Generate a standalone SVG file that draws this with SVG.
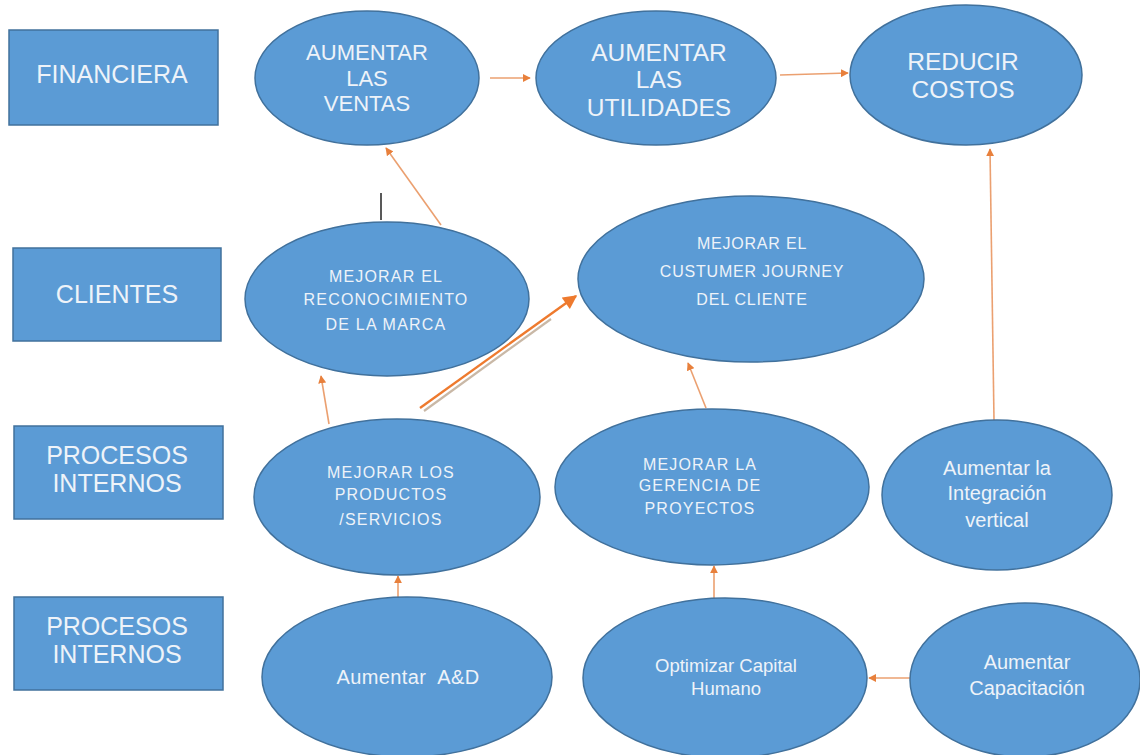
<svg xmlns="http://www.w3.org/2000/svg" width="1140" height="755" viewBox="0 0 1140 755">
<defs>
<style>
.box{fill:#5B9BD5;stroke:#41719C;stroke-width:1.5}
.t{fill:#EEF3F9;font-family:"Liberation Sans",Arial,sans-serif;text-anchor:middle}
.lb{font-size:25px}
.big{font-size:22px}
.big2{font-size:24.5px}
.mid{font-size:20px}
.sm{font-size:16px;letter-spacing:1.2px}
.c{stroke:#EBA070;stroke-width:1.6;fill:none}
.cs{stroke:#EE7A2E;stroke-width:2.4;fill:none}
</style>
<marker id="ah" viewBox="0 0 10 10" refX="9" refY="5" markerWidth="8" markerHeight="8" markerUnits="userSpaceOnUse" orient="auto">
<path d="M0,0 L10,5 L0,10 z" fill="#E8803C"/>
</marker>
<marker id="ah2" viewBox="0 0 10 10" refX="9" refY="5" markerWidth="15" markerHeight="14" markerUnits="userSpaceOnUse" orient="auto">
<path d="M0,0 L10,5 L0,10 z" fill="#EE7A2E"/>
</marker>
</defs>
<rect width="1140" height="755" fill="#ffffff"/>

<g id="lbl-financiera"><rect class="box" x="9" y="30" width="209" height="95"/><text class="t lb" x="112" y="83">FINANCIERA</text></g>
<g id="lbl-clientes"><rect class="box" x="13" y="248" width="208" height="93"/><text class="t lb" x="117" y="303">CLIENTES</text></g>
<g id="lbl-procesos1"><rect class="box" x="14" y="426" width="209" height="93"/><text class="t lb" x="117" y="464">PROCESOS</text><text class="t lb" x="117" y="492">INTERNOS</text></g>
<g id="lbl-procesos2"><rect class="box" x="14" y="597" width="209" height="93"/><text class="t lb" x="117" y="635">PROCESOS</text><text class="t lb" x="117" y="663">INTERNOS</text></g>

<g id="connectors">
<line class="c" x1="490" y1="78" x2="530" y2="78" marker-end="url(#ah)"/>
<line class="c" x1="780" y1="75" x2="848" y2="73" marker-end="url(#ah)"/>
<line class="c" x1="441" y1="225" x2="386" y2="148" marker-end="url(#ah)"/>
<line x1="381" y1="193" x2="381" y2="220" stroke="#222" stroke-width="1.5"/>
<line class="c" x1="329" y1="424" x2="321" y2="376" marker-end="url(#ah)"/>
<line x1="424" y1="411" x2="551" y2="319" stroke="#C9B8A6" stroke-width="2.2"/>
<line class="cs" x1="420" y1="408" x2="576" y2="296" marker-end="url(#ah2)"/>
<line class="c" x1="706" y1="408" x2="688" y2="363" marker-end="url(#ah)"/>
<line class="c" x1="994" y1="420" x2="990" y2="149" marker-end="url(#ah)"/>
<line class="c" x1="398" y1="600" x2="398" y2="576" marker-end="url(#ah)"/>
<line class="c" x1="714" y1="600" x2="714" y2="566" marker-end="url(#ah)"/>
<line class="c" x1="910" y1="678" x2="869" y2="678" marker-end="url(#ah)"/>
</g>

<g id="n-ventas"><ellipse class="box" cx="367" cy="78" rx="112" ry="67"/><text class="t big" x="367" y="60">AUMENTAR</text><text class="t big" x="367" y="86">LAS</text><text class="t big" x="367" y="111">VENTAS</text></g>
<g id="n-utilidades"><ellipse class="box" cx="656" cy="78" rx="120" ry="67"/><text class="t big2" x="659" y="61">AUMENTAR</text><text class="t big2" x="659" y="88">LAS</text><text class="t big2" x="659" y="116">UTILIDADES</text></g>
<g id="n-costos"><ellipse class="box" cx="966" cy="75" rx="116" ry="70"/><text class="t big2" x="963" y="70">REDUCIR</text><text class="t big2" x="963" y="98">COSTOS</text></g>
<g id="n-reconocimiento"><ellipse class="box" cx="387" cy="299" rx="142" ry="77"/><text class="t sm" x="386" y="282">MEJORAR EL</text><text class="t sm" x="386" y="305">RECONOCIMIENTO</text><text class="t sm" x="386" y="330">DE LA MARCA</text></g>
<g id="n-journey"><ellipse class="box" cx="751" cy="279" rx="173" ry="83"/><text class="t sm" style="letter-spacing:0.8px" x="752" y="249">MEJORAR EL</text><text class="t sm" style="letter-spacing:0.8px" x="752" y="277">CUSTUMER JOURNEY</text><text class="t sm" style="letter-spacing:0.8px" x="752" y="305">DEL CLIENTE</text></g>
<g id="n-productos"><ellipse class="box" cx="397" cy="497" rx="143" ry="78"/><text class="t sm" x="391" y="478">MEJORAR LOS</text><text class="t sm" x="391" y="500">PRODUCTOS</text><text class="t sm" x="391" y="525">/SERVICIOS</text></g>
<g id="n-gerencia"><ellipse class="box" cx="712" cy="487" rx="157" ry="78"/><text class="t sm" x="700" y="470">MEJORAR LA</text><text class="t sm" x="700" y="491">GERENCIA DE</text><text class="t sm" x="700" y="514">PROYECTOS</text></g>
<g id="n-integracion"><ellipse class="box" cx="997" cy="495" rx="115" ry="75"/><text class="t mid" x="997" y="475">Aumentar la</text><text class="t mid" x="997" y="500">Integración</text><text class="t mid" x="997" y="527">vertical</text></g>
<g id="n-ad"><ellipse class="box" cx="407" cy="677" rx="145" ry="80"/><text class="t mid" style="letter-spacing:0.4px" x="408" y="684" xml:space="preserve">Aumentar  A&amp;D</text></g>
<g id="n-capital"><ellipse class="box" cx="725" cy="678" rx="142" ry="80"/><text class="t" style="font-size:18.5px" x="726" y="672">Optimizar Capital</text><text class="t" style="font-size:18.5px" x="726" y="695">Humano</text></g>
<g id="n-capacitacion"><ellipse class="box" cx="1025" cy="680" rx="115" ry="77"/><text class="t mid" x="1027" y="669">Aumentar</text><text class="t mid" x="1027" y="695">Capacitación</text></g>
</svg>
